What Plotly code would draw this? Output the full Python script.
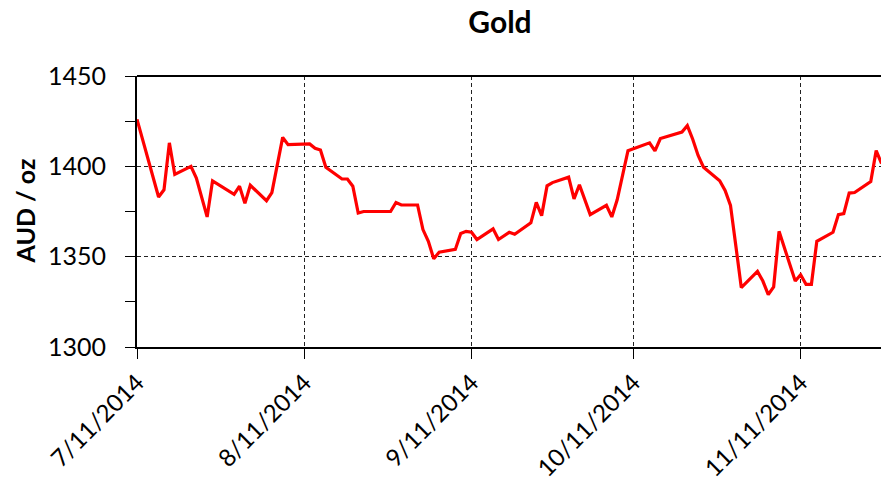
import plotly.graph_objects as go

dates = [
    "2014-07-11", "2014-07-15", "2014-07-16", "2014-07-17", "2014-07-18",
    "2014-07-21", "2014-07-22", "2014-07-24", "2014-07-25", "2014-07-29",
    "2014-07-30", "2014-07-31", "2014-08-01", "2014-08-04", "2014-08-05",
    "2014-08-07", "2014-08-08", "2014-08-11", "2014-08-12", "2014-08-13",
    "2014-08-14", "2014-08-15", "2014-08-18", "2014-08-19", "2014-08-20",
    "2014-08-21", "2014-08-22", "2014-08-25", "2014-08-26", "2014-08-27",
    "2014-08-28", "2014-08-29", "2014-09-01", "2014-09-02", "2014-09-03",
    "2014-09-04", "2014-09-05", "2014-09-08", "2014-09-09", "2014-09-10",
    "2014-09-11", "2014-09-12", "2014-09-15", "2014-09-16", "2014-09-18",
    "2014-09-19", "2014-09-22", "2014-09-23", "2014-09-24", "2014-09-25",
    "2014-09-26", "2014-09-29", "2014-09-30", "2014-10-01", "2014-10-03",
    "2014-10-06", "2014-10-07", "2014-10-08", "2014-10-10", "2014-10-14",
    "2014-10-15", "2014-10-16", "2014-10-20", "2014-10-21", "2014-10-22",
    "2014-10-23", "2014-10-24", "2014-10-27", "2014-10-28", "2014-10-29",
    "2014-10-30", "2014-10-31", "2014-11-03", "2014-11-04", "2014-11-05",
    "2014-11-06", "2014-11-07", "2014-11-10", "2014-11-11", "2014-11-12",
    "2014-11-13", "2014-11-14", "2014-11-17", "2014-11-18", "2014-11-19",
    "2014-11-20", "2014-11-21", "2014-11-24", "2014-11-25", "2014-11-26",
]
gold_aud = [
    1426, 1383, 1387, 1413, 1395.5,
    1400, 1393.5, 1372, 1392, 1384.5,
    1389, 1379.5, 1389.5, 1381, 1385.5,
    1416, 1412, 1412.4, 1412.4, 1410,
    1409, 1399.5, 1393, 1393, 1389,
    1374.2, 1375, 1375, 1375, 1375,
    1380, 1378.6, 1378.6, 1365, 1358.5,
    1348.8, 1352.5, 1354, 1362.8, 1364,
    1363.5, 1359.5, 1365.4, 1359.5, 1363.5,
    1362.4, 1368.7, 1380, 1372.7, 1389.2,
    1391, 1394, 1382, 1389.8, 1373.3,
    1378.4, 1372, 1381.5, 1408.7, 1413,
    1408.5, 1415.4, 1419, 1422.5, 1415,
    1406, 1399.5, 1392, 1386.6, 1378.4,
    1355.8, 1332.9, 1341.8, 1336.5, 1329,
    1333.2, 1364, 1336.5, 1340, 1334.7,
    1334.7, 1358.5, 1363.5, 1373.3, 1373.8,
    1385.2, 1385.5, 1391.6, 1408.7, 1401.5,
]

x_tick_vals = ["2014-07-11", "2014-08-11", "2014-09-11", "2014-10-11", "2014-11-11"]
x_tick_text = ["7/11/2014", "8/11/2014", "9/11/2014", "10/11/2014", "11/11/2014"]
y_tick_vals = [1300, 1350, 1400, 1450]

FONT = "Lato, 'Open Sans', sans-serif"

fig = go.Figure()
fig.add_trace(go.Scatter(
    x=dates, y=gold_aud, mode="lines",
    line=dict(color="#ff0000", width=3.2),
    showlegend=False, hoverinfo="x+y",
))

fig.update_layout(
    width=881, height=484,
    margin=dict(l=137, r=0, t=76, b=137, autoexpand=False),
    paper_bgcolor="white", plot_bgcolor="white",
    font=dict(family=FONT, size=25, color="black"),
    title=dict(text="<b>Gold</b>", x=500 / 881, xanchor="center",
               xref="container", y=1 - 22 / 484, yref="container", yanchor="middle",
               font=dict(family=FONT, size=30, color="black")),
    xaxis=dict(
        type="date",
        range=["2014-07-11", "2014-11-25 21:30"],
        tickmode="array", tickvals=x_tick_vals, ticktext=x_tick_text,
        tickangle=-45,
        ticks="outside", ticklen=10, tickwidth=1, tickcolor="black",
        showline=True, linecolor="black", linewidth=2,
        showgrid=True, gridcolor="#222", griddash="4px,3px", gridwidth=1,
        zeroline=False,
        tickfont=dict(family=FONT, size=24, color="black"),
    ),
    yaxis=dict(
        range=[1300, 1450],
        tickmode="array", tickvals=y_tick_vals,
        ticks="outside", ticklen=10, tickwidth=1, tickcolor="black",
        ticklabelstandoff=14,
        minor=dict(dtick=25, tick0=1300, ticks="outside", ticklen=10,
                   tickcolor="black", showgrid=False),
        showline=True, linecolor="black", linewidth=2,
        showgrid=True, gridcolor="#222", griddash="4px,3px", gridwidth=1,
        zeroline=False,
        tickfont=dict(family=FONT, size=25, color="black"),
    ),
    shapes=[dict(type="line", xref="paper", yref="paper", x0=0, x1=1, y0=1, y1=1,
                 line=dict(color="black", width=2))],
    annotations=[dict(text="<b>AUD / oz</b>", xref="paper", yref="paper",
                      x=(24 - 137) / 744, y=0.5, textangle=-90, showarrow=False,
                      xanchor="center", yanchor="middle",
                      font=dict(family=FONT, size=25, color="black"))],
)

fig.write_html("out.html", config={"displayModeBar": False},
               post_script="document.body.style.margin='0';")
